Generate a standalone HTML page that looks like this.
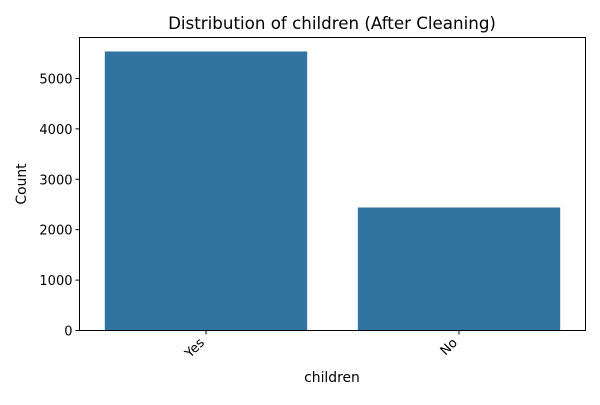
<!DOCTYPE html>
<html><head><meta charset="utf-8"><style>
body{margin:0;background:#fff;}
svg{font-family:"DejaVu Sans","Liberation Sans",sans-serif;}
</style></head><body>
<svg id="chart" width="600" height="400">
<rect width="600" height="400" fill="#fff"/>
<text x="332" y="29" text-anchor="middle" font-size="16.7">Distribution of children (After Cleaning)</text>
<g id="marks"></g>
<rect x="79.5" y="37.5" width="506" height="293" fill="none" stroke="#000" stroke-width="1"/>
<text x="332" y="382" text-anchor="middle" font-size="13.9">children</text>
<text transform="translate(26,184) rotate(-90)" text-anchor="middle" font-size="13.9">Count</text>
</svg>
<script>
const categories = ["Yes", "No"];
const counts = [5536, 2440];
const yTicks = [0, 1000, 2000, 3000, 4000, 5000];

const L = 79.5, R = 585.5, T = 37.5, B = 330.5;
const yMax = Math.max(...counts) * 1.05;
const y = v => B - (v / yMax) * (B - T);
const band = (R - L) / categories.length;
const x = i => L + band * i + band / 2;
const ns = "http://www.w3.org/2000/svg";
const g = document.getElementById("marks");
function mk(tag, attrs) { const e = document.createElementNS(ns, tag); for (const k in attrs) e.setAttribute(k, attrs[k]); g.appendChild(e); return e; }

counts.forEach((v, i) => {
  const bw = band * 0.8;
  const r = mk("rect", { x: x(i) - bw / 2, y: y(v), width: bw, height: B - y(v), fill: "#3274a1" });
  
  
  const t = mk("line", { x1: x(i), x2: x(i), y1: B, y2: B + 4, stroke: "#000" });
  
  
  const lb = mk("text", { "text-anchor": "end", "font-size": 13, transform: `translate(${x(i) - 1},${B + 13}) rotate(-45)` });
  lb.textContent = categories[i];
  
  
});
yTicks.forEach(v => {
  const t = mk("line", { x1: L - 4, x2: L, y1: y(v), y2: y(v), stroke: "#000" });
  
  
  const lb = mk("text", { x: L - 7, y: y(v) + 5, "text-anchor": "end", "font-size": 13 });
  lb.textContent = v;
  
  
});
</script>
</body></html>
